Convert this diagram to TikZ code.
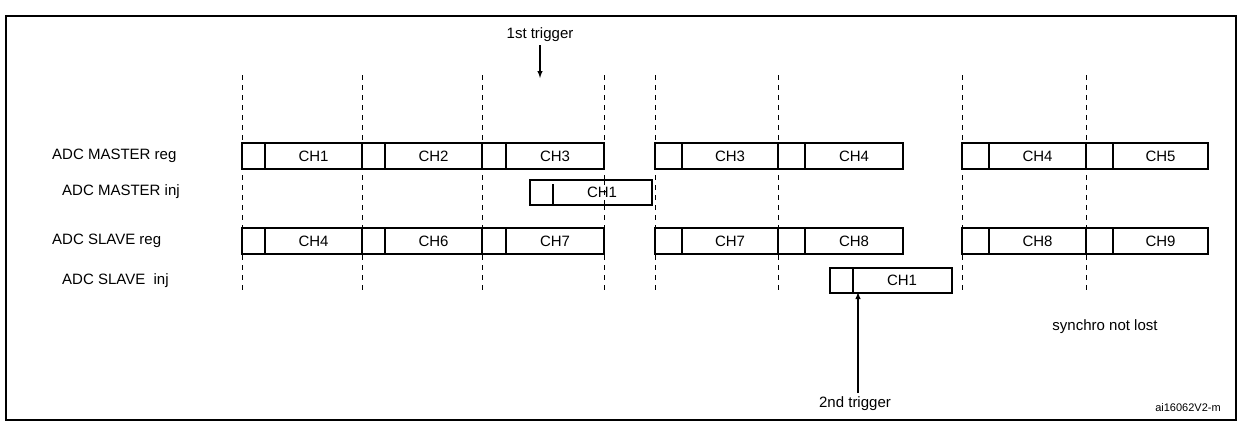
\documentclass[tikz,border=0pt]{standalone}
\usepackage{fontspec}
\setmainfont{Liberation Sans}
\begin{document}
\begin{tikzpicture}[x=1pt,y=-1pt,
  box/.style={draw,line width=1.4pt},
  vdash/.style={line width=0.7pt,dash pattern=on 5pt off 5pt},
  lab/.style={font=\fontsize{15}{17}\selectfont,inner sep=0},
  arr/.style={-latex,line width=1.4pt}]
\useasboundingbox (0,0) rectangle (1241,424);
\draw[line width=1.4pt] (6,16) rectangle (1236,420);
% dashed lines
\foreach \x in {242,362,482,604,655,778,962,1086}
  \draw[vdash] (\x,75) -- (\x,292);
% row helper
\newcommand{\seg}[5]{% x0 xd x1 y label
  \draw[box,fill=white] (#1,#4) rectangle (#3,#4+26);
  \draw[box] (#2,#4) -- (#2,#4+26);
  \node[lab] at ({(#2+#3)/2},#4+13) {#5};}
\foreach \y/\a/\b/\c/\d/\e/\f in {143/CH1/CH2/CH3/CH3/CH4/CH4, 228/CH4/CH6/CH7/CH7/CH8/CH8}{
 \seg{242}{265}{362}{\y}{\a}
 \seg{362}{385}{482}{\y}{\b}
 \seg{482}{506}{604}{\y}{\c}
 \seg{655}{682}{778}{\y}{\d}
 \seg{778}{805}{903}{\y}{\e}
 \seg{962}{989}{1086}{\y}{\f}
}
\seg{1086}{1113}{1208}{143}{CH5}
\seg{1086}{1113}{1208}{228}{CH9}
% injected
\draw[box,fill=white] (530,180) rectangle (652,205);
\draw[box] (553,184) -- (553,204);
\node[lab] (mi) at (602,192) {CH1};
\draw[vdash] (604,180) -- (604,205);
\draw[box,fill=white] (830,268) rectangle (952,293);
\draw[box] (853,268) -- (853,293);
\node[lab] (si) at (902,280) {CH1};
% row labels
\node[lab,anchor=west] (l1) at (52,156) {ADC MASTER reg};
\node[lab,anchor=west] (l2) at (62,192) {ADC MASTER inj};
\node[lab,anchor=west] (l3) at (52,241) {ADC SLAVE reg};
\node[lab,anchor=west] (l4) at (62,281) {ADC SLAVE\ \ inj};
% triggers
\node[lab] (t1) at (540,35) {1st trigger};
\coordinate (t1e) at (540,78);
\draw[arr] (540,45) -- (t1e);
\node[lab] (t2) at (855,404) {2nd trigger};
\coordinate (t2e) at (858,292);
\draw[arr] (858,393) -- (t2e);
\node[lab] (sy) at (1105,327) {synchro not lost};
\node[font=\fontsize{11}{13}\selectfont,inner sep=0] (id) at (1188,408) {ai16062V2-m};
\end{tikzpicture}
\end{document}
